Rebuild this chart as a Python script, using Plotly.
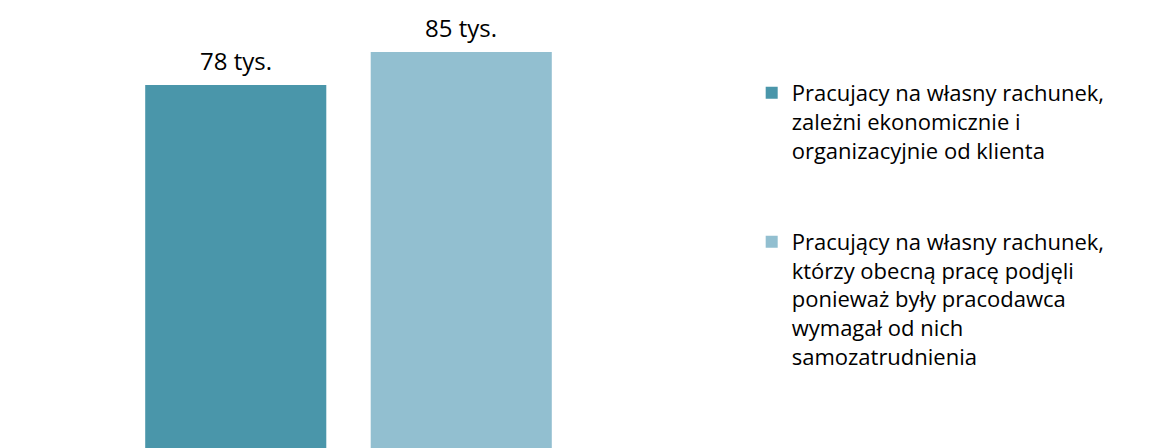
import plotly.graph_objects as go

categories = ["A", "B"]
values = [78, 85]
labels = ["78 tys.", "85 tys."]
names = [
    "Pracujacy na własny rachunek,<br>zależni ekonomicznie i<br>organizacyjnie od klienta",
    "Pracujący na własny rachunek,<br>którzy obecną pracę podjęli<br>ponieważ były pracodawca<br>wymagał od nich<br>samozatrudnienia",
]
colors = ["#4A96AA", "#92BFD0"]

FONT = "Open Sans"

fig = go.Figure()
for i in range(2):
    fig.add_trace(go.Bar(
        x=[categories[i]], y=[values[i]], name=names[i],
        marker=dict(color=colors[i], line=dict(width=0)),
        legendgroup=f"g{i}", width=0.803, hoverinfo="skip",
    ))
    fig.add_annotation(
        x=categories[i], y=values[i], text=labels[i], showarrow=False,
        yanchor="bottom", yshift=6, font=dict(family=FONT, size=24, color="#000000"),
    )

fig.update_layout(
    width=1165, height=448,
    margin=dict(l=115, r=599, t=0, b=0),
    paper_bgcolor="white", plot_bgcolor="white",
    barmode="overlay",
    showlegend=True,
    legend=dict(
        x=1.394, xanchor="left", y=0.857, yanchor="top",
        font=dict(family=FONT, size=22, color="#000000"),
        tracegroupgap=60, valign="top", itemclick=False,
        bgcolor="rgba(0,0,0,0)",
    ),
    xaxis=dict(visible=False, range=[-0.5, 1.5], type="category", categoryorder="array", categoryarray=categories),
    yaxis=dict(visible=False, range=[-0.7, 94.33]),
)

fig.write_html("out.html")
